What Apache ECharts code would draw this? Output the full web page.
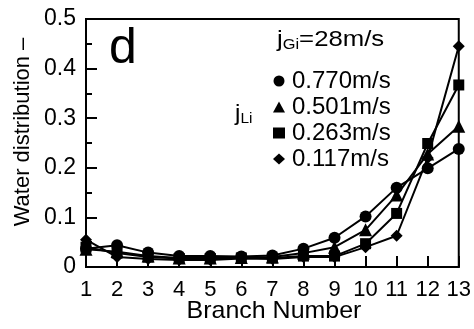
<!DOCTYPE html>
<html><head><meta charset="utf-8">
<script src="https://cdn.jsdelivr.net/npm/echarts@6/dist/echarts.min.js"></script>
<style>html,body{margin:0;padding:0;background:#fff}#c{width:474px;height:329px}</style>
</head><body><div id="c"></div>
<script>
const branches = [1,2,3,4,5,6,7,8,9,10,11,12,13];
const seriesNames = ['0.770m/s','0.501m/s','0.263m/s','0.117m/s'];
const symbols = ['circle','triangle','rect','diamond'];
const v0770 = [0.037,0.044,0.029,0.022,0.022,0.021,0.023,0.037,0.059,0.102,0.160,0.199,0.238];
const v0501 = [0.036,0.031,0.022,0.018,0.018,0.019,0.020,0.028,0.040,0.075,0.145,0.228,0.284];
const v0263 = [0.040,0.028,0.020,0.017,0.017,0.018,0.018,0.022,0.022,0.047,0.108,0.249,0.367];
const v0117 = [0.055,0.020,0.016,0.014,0.014,0.017,0.016,0.020,0.020,0.040,0.063,0.220,0.445];
const yTicks = ['0','0.1','0.2','0.3','0.4','0.5'];
const allValues = [v0770,v0501,v0263,v0117];

const FONT = "'Liberation Sans', Arial, sans-serif";
const chart = echarts.init(document.getElementById('c'));
chart.setOption({
  animation:false,
  grid:{left:86,right:12,top:19,bottom:62,show:true,borderColor:'#000',borderWidth:2,backgroundColor:'transparent'},
  xAxis:{type:'value',min:1,max:13,interval:1,
    axisLine:{lineStyle:{color:'#000',width:2}},
    axisTick:{inside:true,length:11,lineStyle:{color:'#000',width:2}},
    splitLine:{show:false},
    axisLabel:{color:'#000',fontSize:22,fontFamily:FONT,margin:12}},
  yAxis:{type:'value',min:0,max:0.5,interval:0.1,
    axisLine:{show:true,lineStyle:{color:'#000',width:2}},
    axisTick:{show:true,inside:true,length:11,lineStyle:{color:'#000',width:2}},
    minorTick:{show:true,splitNumber:2,length:6,lineStyle:{color:'#000',width:2}},
    splitLine:{show:false},
    axisLabel:{color:'#000',fontSize:23,fontFamily:FONT,margin:10,
      formatter:(v)=>yTicks[Math.round(v*10)]}},
  legend:{orient:'vertical',left:268,top:64,itemWidth:12,itemHeight:11,itemGap:2,
    textStyle:{color:'#000',fontSize:24,fontFamily:FONT,padding:[0,0,0,2]},
    data:seriesNames.map((n,i)=>({name:n,icon:symbols[i]}))},
  series:seriesNames.map((n,i)=>({
    name:n,type:'line',symbol:symbols[i],
    symbolSize: symbols[i]==='rect'?11:(symbols[i]==='triangle'?13:12),
    itemStyle:{color:'#000'},lineStyle:{color:'#000',width:2},
    data:branches.map((b,j)=>[b,allValues[i][j]])
  })),
  graphic:[
    {type:'text',left:109,top:24,style:{text:'d',fontSize:50,fontFamily:FONT,fill:'#000'}},
    {type:'text',x:277,y:27,scaleX:1.17,style:{text:'j{s|Gi}=28m/s',fontSize:22,fontFamily:FONT,fill:'#000',
      rich:{s:{fontSize:14,fontFamily:FONT,padding:[11,0,0,0]}}}},
    {type:'text',x:235,y:101,scaleX:1.1,style:{text:'j{s|Li}',fontSize:22,fontFamily:FONT,fill:'#000',
      rich:{s:{fontSize:14,fontFamily:FONT,padding:[11,0,0,0]}}}},
    {type:'text',x:23,y:132,rotation:Math.PI/2,style:{text:'Water distribution –',fontSize:22,fontFamily:FONT,fill:'#000',align:'center',verticalAlign:'middle'}},
    {type:'text',x:274,y:311,scaleX:1.04,style:{text:'Branch Number',fontSize:24,fontFamily:FONT,fill:'#000',align:'center',verticalAlign:'middle'}}
  ]
});
</script></body></html>
